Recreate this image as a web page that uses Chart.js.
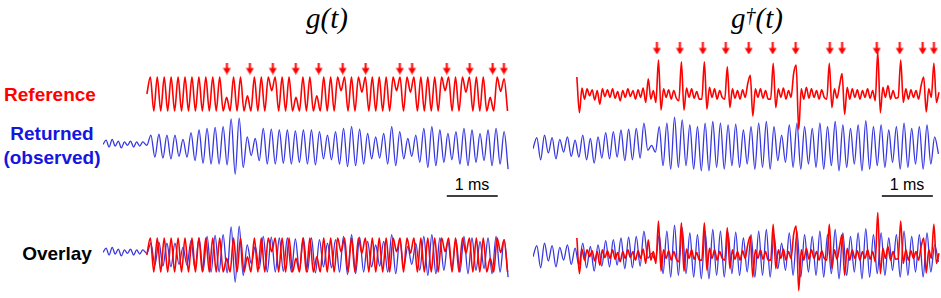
<!DOCTYPE html>
<html>
<head>
<meta charset="utf-8">
<script src="https://cdn.jsdelivr.net/npm/chart.js@4.4.1/dist/chart.umd.min.js"></script>
<style>
body { margin: 0; width: 941px; height: 298px; overflow: hidden; background: #fff; position: relative; font-family: "Liberation Sans", Arial, sans-serif; }
canvas { position: absolute; }
.lbl { position: absolute; font-weight: bold; font-size: 19px; text-align: center; width: 110px; line-height: 24px; }
.title { position: absolute; font-family: "Liberation Serif", serif; font-style: italic; font-size: 29px; line-height: 32px; width: 120px; text-align: center; }
.title sup { font-size: 20px; vertical-align: 6px; line-height: 0; }
.bar { position: absolute; font-size: 16px; line-height: 20px; width: 60px; text-align: center; }
</style>
</head>
<body>
<div class="title" style="left:267px;top:2px">g(t)</div>
<div class="title" style="left:697px;top:2px">g<sup>†</sup>(t)</div>
<div class="lbl" style="left:-5px;top:83px;color:#f00">Reference</div>
<div class="lbl" style="left:-3px;top:122px;color:#1515e0">Returned<br>(observed)</div>
<div class="lbl" style="left:2px;top:242px;color:#000">Overlay</div>
<div class="bar" style="left:442px;top:175px">1 ms</div>
<div class="bar" style="left:877px;top:175px">1 ms</div>
<canvas id="refLeft" width="407" height="136" style="left:103px;top:26px"></canvas>
<canvas id="refRight" width="407" height="136" style="left:533px;top:26px"></canvas>
<canvas id="retLeft" width="407" height="136" style="left:103px;top:79px"></canvas>
<canvas id="retRight" width="407" height="136" style="left:533px;top:79px"></canvas>
<canvas id="ovLeft" width="407" height="136" style="left:103px;top:187px"></canvas>
<canvas id="ovRight" width="407" height="136" style="left:533px;top:187px"></canvas>
<script>
// time axis in ms, signal starts at t = 0
const tMin = -0.86, tMax = 7.12;

// phase flip times (ms), marked by arrows
const arrowTimes = [1.57, 2.02, 2.47, 2.92, 3.37, 3.84, 4.29, 4.96, 5.20, 5.88, 6.33, 6.78, 7.00];

// g(t) reference, one value per half cycle
const refLStep = 0.068;
const refL = [0,
    1, -1, 1, -1, 1, -1, 1, -1, 1, -1,
    1, -1, 1, -1, 1, -1, 1, -1, 1, -1,
    1, -1, -0.2, -1, 1, -1, 1, -1, -0.1, -1,
    1, -1, 1, -1, 1, 0.2, 1, -1, 1, -1,
    1, -1, -0.2, -1, 1, -1, 1, -1, -0.1, -1,
    1, -1, 1, -1, 1, 0.2, 1, -1, 1, -1,
    1, 0.1, 1, -1, 1, -1, 1, -1, 1, -1,
    1, 0.2, 1, -1, 1, 0.1, 1, -1, 1, -1,
    1, -1, 1, -1, 1, 0.2, 1, -1, 1, -1,
    1, 0.1, 1, -1, 1, -1, 1, -1, -0.2, -1,
    1, 0.15, 0.9, -1];

// returned signal for g(t): noise before the start, then the echo
const retLPreStep = 0.06;
const retLPre = [0.15, 0.4, 0.0, 0.45, 0.05, 0.35, -0.05, 0.3, 0.1, 0.35, 0.0, 0.3, 0.05, 0.3];
const retLStep = 0.0787;
const retL = [0.1,
    0.7, -0.6, 0.75, -0.65, 0.7, -0.7, 0.7, -0.55, 0.45, -0.6,
    0.85, -0.8, 1.0, -0.95, 1.1, -1.0, 1.15, -1.0, 1.2, -1.05,
    1.65, -1.6, 1.7, -1.2, 0.6, -0.5, 0.5, -0.8, 1.1, -1.0,
    1.05, -1.0, 1.0, -0.95, 1.0, -1.0, 0.95, -0.9, 1.0, -1.0,
    1.0, -1.05, 0.9, -0.7, 0.7, -0.75, 0.9, -1.0, 1.1, -1.15,
    1.2, -1.1, 1.05, -1.0, 0.8, -0.7, 0.6, -0.65, 0.8, -1.0,
    1.2, -1.1, 0.9, -0.7, 0.5, -0.55, 0.7, -0.9, 1.1, -1.2,
    1.2, -1.1, 1.0, -0.9, 0.8, -0.75, 0.9, -1.0, 1.1, -1.1,
    1.0, -0.9, 0.8, -0.8, 1.0, -1.1, 1.1, -1.0, 0.9, -1.3];

// g†(t) reference
const refRStep = 0.05;
const refR = [
    1.0, -1.1, 0.35, -0.3, 0.3, -0.1, 0.25, -0.35, 0.2, -0.6,
    0.3, -0.15, 0.25, -0.2, 0.3, -0.25, 0.15, -0.4, 0.2, -0.2,
    0.3, -0.15, 0.2, -0.3, 0.25, -0.2, 0.35, -0.5, 0.9, -0.3,
    0.2, -0.5, 2.0, -0.95, 0.3, -0.2, 0.25, -0.3, 0.2, -0.25,
    -0.4, 1.9, -0.95, 0.35, -0.2, 0.3, -0.25, 0.15, -0.3, -0.3,
    1.9, -0.9, 0.4, -0.2, 0.3, -0.3, 0.2, -0.2, -0.3, 1.6,
    -0.8, 0.3, -0.25, 0.2, -0.3, 0.25, -0.2, 0.6, 1.1, -1.3,
    0.3, -0.2, 0.3, -0.25, 0.2, -0.3, -0.3, 1.8, -0.8, 0.3,
    -0.2, 0.35, -0.3, 0.2, -0.2, 1.2, 1.7, -2.1, 0.3, -0.3,
    0.4, -0.25, 0.3, -0.2, 0.2, -0.3, 0.25, -0.2, -0.3, 1.8,
    -0.8, 0.3, -0.25, 0.5, 1.2, -1.2, 0.4, -0.3, 0.3, -0.2,
    0.25, -0.3, 0.2, -0.2, 0.3, -0.25, 0.2, -0.4, 2.5, -1.1,
    0.4, -0.2, 0.5, -0.3, 0.2, -0.25, -0.2, 2.0, -0.5, 0.3,
    -0.3, 0.25, -0.2, 0.2, -0.3, 0.5, 1.0, -1.05, 0.3, -0.2,
    1.8, -0.5, 0.1];

// returned signal for g†(t), starts at tMin
const retRStep = 0.075;
const retR = [
    -0.1, 0.55, -0.75, 0.7, -0.35, 0.55, -0.7, 0.45, -0.3, 0.6,
    -0.55, 0.4, -0.6, 0.7, -0.75, 0.5, -0.95, 0.6, -0.65, 0.85,
    -0.7, 0.9, -0.6, 1.0, -0.8, 1.05, -0.75, 1.1, -0.65, 1.4,
    -0.2, 0.1, -0.3, 1.2, -1.1, 1.4, -1.3, 1.75, -1.2, 1.6,
    -1.1, 1.3, -1.3, 1.2, -1.4, 1.4, -1.4, 1.5, -1.2, 1.4,
    -1.3, 1.3, -1.1, 1.35, -1.2, 1.0, -1.0, 1.2, -1.3, 1.4,
    -1.2, 1.5, -1.3, 1.2, -0.8, 0.7, -0.9, 1.3, -1.2, 1.4,
    -1.3, 1.2, -1.0, 1.1, -1.2, 1.4, -1.3, 1.2, -1.1, 1.5,
    -1.4, 1.3, -1.2, 1.1, -1.0, 1.3, -1.4, 1.55, -1.3, 1.2,
    -1.1, 1.3, -1.2, 1.0, -0.9, 1.2, -1.3, 1.4, -1.2, 1.1,
    -1.0, 1.2, -1.3, 1.3, -1.0, 0.6, -0.4];

const RED = 'rgb(255,0,0)';
const BLUE = 'rgb(55,55,225)';

function series(values, t0, dt) {
    return values.map((v, i) => ({ x: t0 + i * dt, y: v }));
}

function wave(data, color, width, order) {
    return {
        data: data,
        borderColor: color,
        borderWidth: width,
        pointRadius: 0,
        pointBorderWidth: 0,
        cubicInterpolationMode: 'monotone',
        order: order || 0
    };
}

// small red down arrow used as point style
const arrow = document.createElement('canvas');
arrow.width = 9;
arrow.height = 12;
const actx = arrow.getContext('2d');
actx.fillStyle = RED;
actx.fillRect(3.5, 0, 2, 7);
actx.beginPath();
actx.moveTo(0.5, 5.5);
actx.lineTo(8.5, 5.5);
actx.lineTo(4.5, 12);
actx.closePath();
actx.fill();

function arrows(y) {
    return {
        data: arrowTimes.map(t => ({ x: t, y: y })),
        showLine: false,
        pointStyle: arrow,
        pointRadius: 5
    };
}

function scaleBar(t0) {
    return {
        data: [{ x: t0, y: -2.88 }, { x: t0 + 1, y: -2.88 }],
        borderColor: '#000',
        borderWidth: 1.5,
        pointRadius: 0
    };
}

function makeChart(id, datasets) {
    new Chart(document.getElementById(id), {
        type: 'line',
        data: { datasets: datasets },
        options: {
            responsive: false,
            animation: false,
            events: [],
            layout: { padding: 0, autoPadding: false },
            plugins: { legend: { display: false }, tooltip: { enabled: false } },
            scales: {
                x: { type: 'linear', min: tMin, max: tMax, display: false },
                y: { min: -4, max: 4, display: false }
            }
        }
    });
}

const refLData = series(refL, 0, refLStep);
const retLData = series(retLPre, tMin, retLPreStep).concat(series(retL, 0, retLStep));
const refRData = series(refR, 0, refRStep);
const retRData = series(retR, tMin, retRStep);

makeChart('refLeft', [wave(refLData, RED, 1.6), arrows(1.5)]);
makeChart('refRight', [wave(refRData, RED, 1.6), arrows(2.68)]);
makeChart('retLeft', [wave(retLData, BLUE, 1.3), scaleBar(5.88)]);
makeChart('retRight', [wave(retRData, BLUE, 1.3), scaleBar(5.98)]);
makeChart('ovLeft', [wave(refLData, RED, 1.6, 0), wave(retLData, BLUE, 1.3, 1)]);
makeChart('ovRight', [wave(refRData, RED, 1.6, 0), wave(retRData, BLUE, 1.3, 1)]);
</script>
</body>
</html>
